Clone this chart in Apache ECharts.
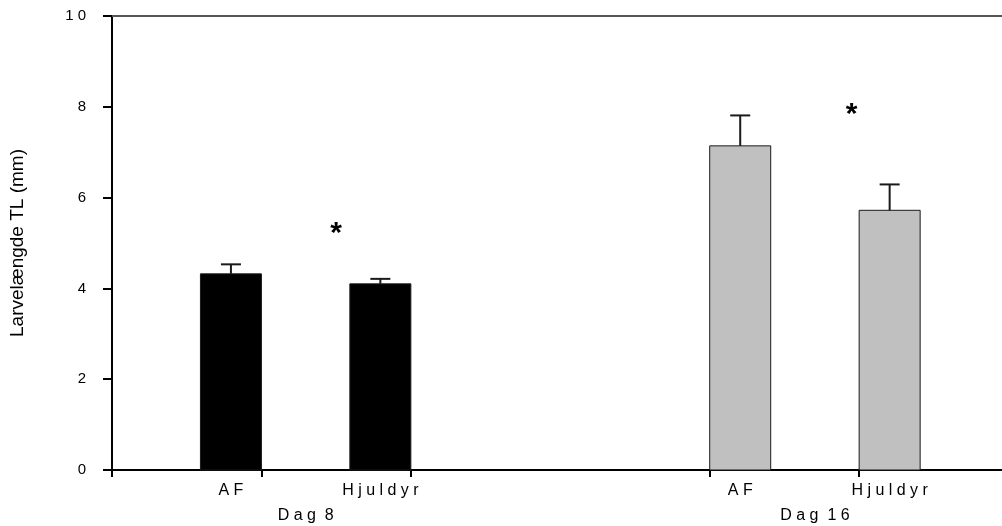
<!DOCTYPE html>
<html lang="da">

<head>
  <meta charset="UTF-8">
  <title>Larvelængde</title>
  <style>
    html, body { margin: 0; padding: 0; background: #fff; }
  </style>
</head>

<body>
  <div id="main" style="width: 1002px;height:526px;"></div>

  <script src="https://cdn.jsdelivr.net/npm/echarts@6/dist/echarts.min.js"></script>
  <script>
    // grupper og behandlinger
    let groupNames = ['D a g  8', 'D a g  1 6'];
    let treatmentNames = ['A F', 'H j u l d y r', 'A F', 'H j u l d y r'];
    // placering af hver behandling på x-aksen (akse-enheder)
    let treatmentTicks = [1, 2, 4, 5];
    let meanLength = [4.32, 4.10, 7.14, 5.72];
    let errLength = [0.21, 0.11, 0.67, 0.57];
    // signifikans-stjerner
    let starX = [1.5, 4.95];
    let starY = [5.36, 7.99];
    let yTicks = [0, 2, 4, 6, 8, 10];

    let font = '"Liberation Sans", Arial, sans-serif';
    let cfg = {
      barWidth: 61,
      capHalf: 10,
      xMax: 5.956
    };

    let barData = meanLength.map((v, i) => [treatmentTicks[i], v, errLength[i]]);
    let starData = starX.map((x, i) => [x, starY[i]]);

    let chart = echarts.init(document.getElementById('main'));
    let option = {
      backgroundColor: '#fff',
      animation: false,
      grid: {
        left: 111,
        right: 0,
        top: 16,
        bottom: 56
      },
      xAxis: [{
        type: 'value',
        min: 0,
        max: cfg.xMax,
        position: 'bottom',
        axisLine: { show: true, lineStyle: { color: '#000', width: 2 } },
        axisTick: {
          show: true,
          length: 7,
          customValues: [0].concat(treatmentTicks),
          lineStyle: { color: '#000', width: 2 }
        },
        axisLabel: { show: false },
        splitLine: { show: false }
      }, {
        type: 'value',
        min: 0,
        max: cfg.xMax,
        position: 'top',
        axisLine: { show: true, lineStyle: { color: '#555', width: 2 } },
        axisTick: { show: false },
        axisLabel: { show: false },
        splitLine: { show: false }
      }],
      yAxis: {
        type: 'value',
        min: 0,
        max: 10,
        interval: 2,
        name: 'Larvelængde TL (mm)',
        nameLocation: 'middle',
        nameGap: 85,
        nameTextStyle: { fontSize: 19, color: '#000', fontFamily: font },
        axisLine: { show: true, lineStyle: { color: '#000', width: 2 } },
        axisTick: { show: true, length: 9, lineStyle: { color: '#000', width: 2 } },
        axisLabel: {
          margin: 26,
          fontSize: 15,
          color: '#000',
          fontFamily: font,
          formatter: (v) => yTicks.indexOf(v) >= 0 ? String(v).split('').join(' ') : ''
        },
        splitLine: { show: false }
      },
      series: [{
        type: 'custom',
        clip: false,
        renderItem: (params, api) => {
          let i = params.dataIndex;
          let tick = api.value(0);
          let v = api.value(1);
          let e = api.value(2);
          let base = api.coord([tick, 0]);
          let top = api.coord([tick, v]);
          let eTop = api.coord([tick, v + e]);
          let w = cfg.barWidth;
          let dag8 = i < 2;
          let left = dag8 ? base[0] - w : base[0];
          let cx = left + w / 2;

          let children = [{
            type: 'rect',
            shape: { x: left, y: top[1], width: w, height: base[1] - top[1] },
            style: {
              fill: dag8 ? '#000' : '#c0c0c0',
              stroke: '#1a1a1a',
              lineWidth: 1
            }
          }, {
            type: 'line',
            shape: { x1: cx, y1: top[1], x2: cx, y2: eTop[1] },
            style: { stroke: '#1a1a1a', lineWidth: 2 }
          }, {
            type: 'line',
            shape: { x1: cx - cfg.capHalf, y1: eTop[1], x2: cx + cfg.capHalf, y2: eTop[1] },
            style: { stroke: '#1a1a1a', lineWidth: 2 }
          }, {
            type: 'text',
            x: cx,
            y: base[1] + 21,
            style: {
              text: treatmentNames[i],
              font: '16px ' + font,
              fill: '#000',
              align: 'center',
              verticalAlign: 'middle'
            }
          }];

          // gruppenavn under hvert par
          if (i % 2 === 0) {
            let next = api.coord([treatmentTicks[i + 1], 0]);
            children.push({
              type: 'text',
              x: cx + (next[0] - base[0]) / 2,
              y: base[1] + 46,
              style: {
                text: groupNames[i / 2],
                font: '16px ' + font,
                fill: '#000',
                align: 'center',
                verticalAlign: 'middle'
              }
            });
          }
          return { type: 'group', children: children };
        },
        encode: { x: 0, y: 1 },
        data: barData
      }, {
        type: 'custom',
        renderItem: (params, api) => {
          let p = api.coord([api.value(0), api.value(1)]);
          return {
            type: 'text',
            x: p[0],
            y: p[1] + 7,
            style: {
              text: '*',
              font: 'bold 30px ' + font,
              fill: '#000',
              align: 'center',
              verticalAlign: 'middle'
            }
          };
        },
        encode: { x: 0, y: 1 },
        data: starData
      }]
    };
    chart.setOption(option);
  </script>
</body>

</html>
